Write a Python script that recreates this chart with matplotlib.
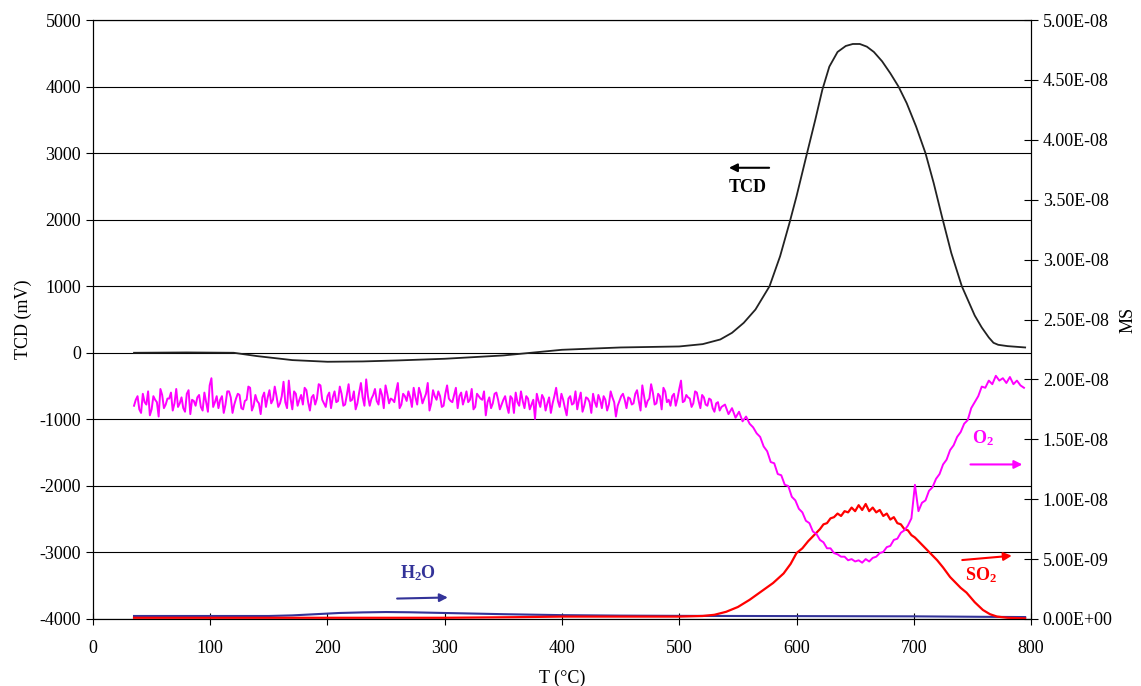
import matplotlib

matplotlib.use("Agg")
import matplotlib.pyplot as plt
import numpy as np
from matplotlib.ticker import FuncFormatter, MultipleLocator

plt.rcParams["font.family"] = ["Liberation Serif", "DejaVu Serif"]
plt.rcParams["mathtext.fontset"] = "custom"
plt.rcParams["mathtext.rm"] = "Liberation Serif"
plt.rcParams["mathtext.bf"] = "Liberation Serif:bold"
plt.rcParams["axes.unicode_minus"] = False

# TCD signal (mV, left axis)
TCD_T = [35, 80, 120, 140, 170, 200, 230, 260, 300, 350,
         400, 450, 500, 520, 535, 545, 555, 565, 577, 586,
         594, 600, 609, 616, 622, 628, 635, 642, 648, 654,
         660, 666, 673, 680, 687, 694, 702, 710, 717, 724,
         732, 741, 746, 752, 758, 764, 768, 772, 780, 795]
TCD_MV = [0, 5, 0, -50, -110, -135, -130, -115, -90, -40,
          45, 80, 95, 130, 200, 300, 450, 650, 1000, 1450,
          1950, 2350, 3000, 3500, 3950, 4300, 4520, 4610, 4640, 4640,
          4600, 4520, 4380, 4200, 4000, 3750, 3400, 3000, 2550, 2050,
          1500, 1000, 800, 560, 380, 230, 150, 120, 100, 80]

# O2 MS signal, units of 1e-10, read every 3 degC from 35 degC
O2_T = np.arange(35, 795, 3)
O2_MS = [
    178, 186, 172, 181, 190, 175, 183, 169, 187, 179, 184, 174, 192, 180, 176, 188, 171, 182, 185, 177,
    189, 173, 201, 181, 176, 186, 179, 190, 172, 184, 187, 175, 183, 193, 178, 182, 171, 189, 185, 180,
    194, 177, 186, 181, 199, 175, 188, 183, 179, 191, 174, 187, 184, 195, 180, 186, 176, 190, 182, 188,
    179, 196, 183, 175, 189, 185, 200, 178, 187, 182, 192, 176, 188, 184, 181, 197, 179, 186, 190, 177,
    185, 193, 180, 188, 174, 191, 183, 186, 178, 195, 182, 187, 176, 189, 184, 181, 192, 177, 186, 183,
    170, 185, 180, 189, 175, 183, 178, 186, 172, 181, 190, 176, 184, 179, 167, 182, 187, 174, 185, 180,
    193, 177, 183, 170, 186, 180, 175, 189, 178, 184, 172, 181, 187, 176, 183, 179, 185, 169, 182, 188,
    176, 184, 180, 191, 174, 186, 182, 196, 179, 188, 175, 190, 183, 186, 178, 192, 181, 187, 184, 180,
    189, 176, 185, 178, 183, 173, 181, 177, 179, 171, 176, 168, 173, 165, 169, 163, 160, 155, 152, 144,
    140, 131, 130, 121, 120, 112, 111, 102, 99, 92, 89, 82, 80, 73, 71, 66, 64, 59, 59, 55,
    54, 52, 52, 49, 50, 48, 49, 47, 50, 48, 51, 52, 55, 56, 60, 61, 66, 67, 72, 74,
    78, 84, 112, 90, 97, 99, 107, 110, 117, 121, 129, 133, 141, 145, 152, 156, 163, 166, 176, 181,
    186, 194, 193, 199, 196, 203, 199, 201, 197, 202, 196, 199, 195, 193,
]

# extra O2 readings in between, plateau region (36.5 .. 537.5 degC)
O2_MID_T = np.arange(36.5, 539, 3)
O2_MID_MS = [
    183, 175, 188, 179, 170, 186, 181, 192, 176, 184, 189, 180, 177, 185, 173, 191, 183, 178, 187, 174,
    181, 195, 177, 186, 183, 172, 190, 185, 179, 188, 176, 182, 194, 174, 187, 180, 185, 177, 191, 183,
    186, 180, 198, 176, 184, 190, 178, 187, 193, 181, 185, 179, 196, 183, 177, 189, 185, 181, 194, 178,
    187, 182, 190, 180, 197, 178, 186, 184, 192, 179, 187, 195, 180, 183, 190, 176, 188, 182, 185, 193,
    179, 188, 184, 197, 180, 186, 190, 177, 188, 184, 181, 193, 186, 179, 190, 183, 175, 188, 184, 190,
    181, 176, 188, 183, 179, 186, 172, 184, 189, 178, 182, 186, 175, 183, 188, 177, 184, 180, 172, 186,
    182, 188, 176, 184, 179, 190, 183, 173, 185, 181, 188, 177, 183, 186, 174, 190, 181, 178, 186, 183,
    185, 179, 188, 182, 195, 177, 184, 189, 180, 186, 193, 181, 178, 188, 184, 199, 182, 185, 177, 190,
    182, 187, 179, 184, 176, 180, 174, 178,
]

# SO2 MS signal, units of 1e-10
SO2_T = [35, 100, 200, 300, 360, 400, 450, 500, 520, 530,
         540, 550, 560, 570, 580, 589, 595, 600, 605, 610,
         614, 617, 620, 623, 626, 629, 632, 635, 638, 641,
         644, 647, 650, 653, 656, 659, 662, 665, 668, 671,
         674, 677, 680, 683, 686, 689, 692, 695, 698, 701,
         704, 708, 712, 716, 720, 725, 731, 736, 740, 745,
         752, 759, 765, 771, 780, 795]
SO2_MS = [1, 1, 1, 1, 1.5, 2, 2, 2, 2.5, 3.5,
          6, 10, 16, 23, 30, 38, 46, 55, 59, 65,
          69, 72, 75, 79, 80, 84, 85, 88, 86, 90,
          89, 93, 90, 95, 91, 96, 90, 93, 89, 91,
          86, 88, 83, 85, 80, 79, 75, 74, 70, 68,
          65, 61, 57, 53, 49, 43, 35, 30, 26, 22,
          14, 7.5, 4, 2, 1, 0.5]

# H2O MS signal, units of 1e-10
H2O_T = [35, 100, 150, 170, 190, 210, 230, 250, 270, 290, 310, 350, 400, 450, 500, 600, 700, 760, 795]
H2O_MS = [2.5, 2.5, 2.5, 3, 4, 5, 5.5, 5.8, 5.6, 5.2, 4.8, 4, 3.2, 2.8, 2.6, 2.4, 2.2, 1.8, 1.6]

SCALE = 1e-10
FS = 13


def main() -> None:
    fig = plt.figure(figsize=(11.41, 6.86), dpi=100)
    ax = fig.add_axes([0.0815, 0.0977, 0.8221, 0.8731])
    ax2 = ax.twinx()

    ax.set_xlim(0, 800)
    ax.set_ylim(-4000, 5000)
    ax2.set_ylim(0, 5e-8)

    ax.yaxis.set_major_locator(MultipleLocator(1000))
    ax.xaxis.set_major_locator(MultipleLocator(100))
    ax2.yaxis.set_major_locator(MultipleLocator(5e-9))
    ax2.yaxis.set_major_formatter(FuncFormatter(lambda v, _: f"{v:.2E}"))

    ax.grid(axis="y", color="black", linewidth=0.8)
    ax.set_axisbelow(True)

    ax.tick_params(axis="y", direction="out", length=5, labelsize=FS)
    ax.tick_params(axis="x", direction="inout", length=8, labelsize=FS, pad=11)
    ax2.tick_params(axis="y", direction="inout", length=10, labelsize=FS)

    ax.plot(TCD_T, TCD_MV, color="#222222", linewidth=1.3, zorder=3)

    o2_t = np.concatenate([O2_T, O2_MID_T])
    o2_v = np.concatenate([O2_MS, O2_MID_MS])
    order = np.argsort(o2_t)

    ax2.plot(H2O_T, np.asarray(H2O_MS) * SCALE, color="#333399", linewidth=1.5)
    ax2.plot(SO2_T, np.asarray(SO2_MS) * SCALE, color="#ff0000", linewidth=1.6)
    ax2.plot(o2_t[order], o2_v[order] * SCALE, color="#ff00ff", linewidth=1.4)

    ax.set_xlabel("T (°C)", fontsize=FS, labelpad=9)
    ax.set_ylabel("TCD (mV)", fontsize=FS)
    ax.yaxis.set_label_coords(-0.065, 0.5)
    ax2.set_ylabel("MS", fontsize=FS)
    ax2.yaxis.set_label_coords(1.094, 0.5)

    arrow = dict(arrowstyle="-|>", lw=1.5, mutation_scale=12)

    ax.annotate("", xy=(540, 2780), xytext=(579, 2780),
                arrowprops=dict(arrow, color="black"))
    ax.text(558, 2480, "TCD", fontsize=FS, fontweight="bold", ha="center", va="center")

    ax2.annotate("", xy=(305, 0.18e-8), xytext=(257, 0.17e-8),
                 arrowprops=dict(arrow, color="#333399"))
    ax2.text(277, 0.38e-8, r"$\mathbf{H_2O}$", fontsize=FS, color="#333399",
             ha="center", va="center")

    ax2.annotate("", xy=(795, 1.29e-8), xytext=(746, 1.29e-8),
                 arrowprops=dict(arrow, color="#ff00ff"))
    ax2.text(759, 1.51e-8, r"$\mathbf{O_2}$", fontsize=FS, color="#ff00ff",
             ha="center", va="center")

    ax2.annotate("", xy=(786, 0.53e-8), xytext=(739, 0.49e-8),
                 arrowprops=dict(arrow, color="#ff0000"))
    ax2.text(757, 0.37e-8, r"$\mathbf{SO_2}$", fontsize=FS, color="#ff0000",
             ha="center", va="center")

    fig.savefig("out.png", dpi=100)
    plt.close(fig)


if __name__ == "__main__":
    main()
